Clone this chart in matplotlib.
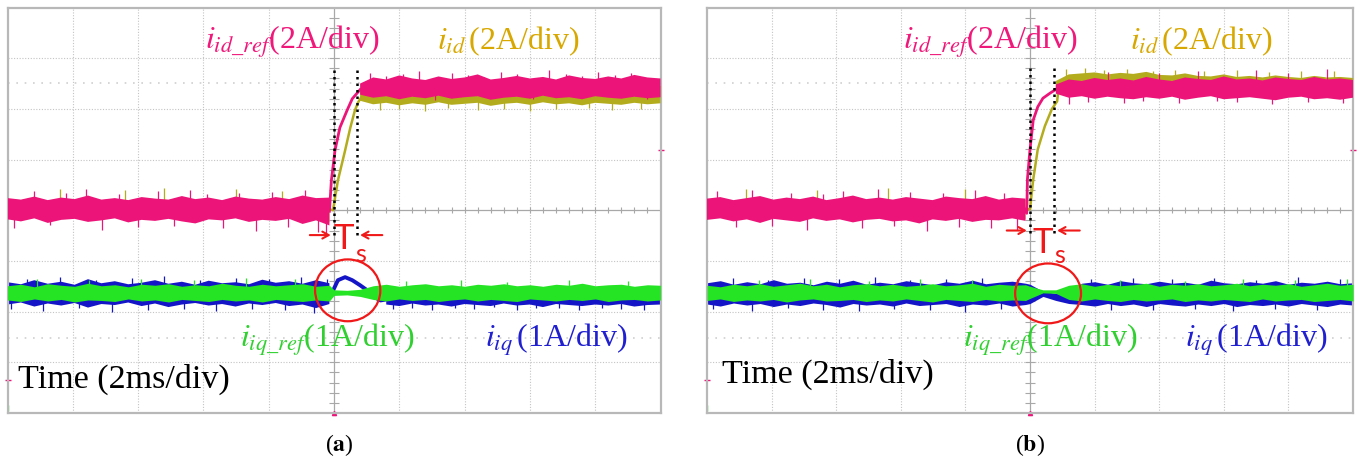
import matplotlib
matplotlib.use('Agg')
import matplotlib.pyplot as plt
from matplotlib.patches import Ellipse
import numpy as np

plt.rcParams.update({
    'font.family': ['Liberation Serif', 'DejaVu Serif'],
    'mathtext.fontset': 'stix',
})

nan = np.nan
# scope sample instants, divisions from trigger (2 ms/div); amplitudes in divisions
t = np.r_[np.linspace(-5, -0.07, 25), np.linspace(0, 5, 26)]

# ---------------- (a) ----------------
a_idref_hi = [0.24, 0.21, 0.27, 0.20, 0.25, 0.22, 0.29, 0.21, 0.24, 0.20, 0.26, 0.23, 0.21,
              0.28, 0.22, 0.25, 0.20, 0.27, 0.23, 0.21, 0.26, 0.22, 0.29, 0.24, 0.25,
              nan, nan,
              2.50, 2.62, 2.58, 2.66, 2.60, 2.57, 2.64, 2.59, 2.62, 2.68, 2.58, 2.61,
              2.65, 2.60, 2.63, 2.58, 2.66, 2.61, 2.59, 2.64, 2.60, 2.67, 2.62, 2.60]
a_idref_lo = [-0.18, -0.22, -0.16, -0.25, -0.19, -0.17, -0.23, -0.20, -0.16, -0.24, -0.19, -0.21, -0.17,
              -0.22, -0.26, -0.18, -0.20, -0.16, -0.23, -0.19, -0.21, -0.17, -0.27, -0.20, -0.30,
              nan, nan,
              2.28, 2.22, 2.25, 2.19, 2.24, 2.21, 2.26, 2.20, 2.23, 2.25, 2.18, 2.22,
              2.24, 2.20, 2.26, 2.21, 2.23, 2.19, 2.25, 2.22, 2.20, 2.24, 2.21, 2.23]
a_id_hi = [0.22, 0.20, 0.25, 0.19, 0.23, 0.21, 0.26, 0.20, 0.22, 0.19, 0.24, 0.22, 0.20,
           0.25, 0.21, 0.23, 0.19, 0.25, 0.22, 0.20, 0.24, 0.21, 0.26, 0.22, 0.23,
           nan, nan,
           2.40, 2.45, 2.44, 2.47, 2.45, 2.43, 2.46, 2.44, 2.45, 2.48, 2.44, 2.45,
           2.47, 2.45, 2.46, 2.44, 2.47, 2.45, 2.44, 2.46, 2.45, 2.48, 2.46, 2.45]
a_id_lo = [-0.15, -0.18, -0.14, -0.20, -0.16, -0.15, -0.19, -0.17, -0.14, -0.20, -0.16, -0.18, -0.15,
           -0.19, -0.21, -0.16, -0.17, -0.14, -0.19, -0.16, -0.18, -0.15, -0.22, -0.17, -0.24,
           nan, nan,
           2.16, 2.09, 2.12, 2.07, 2.11, 2.08, 2.13, 2.08, 2.10, 2.12, 2.06, 2.10,
           2.12, 2.08, 2.13, 2.09, 2.11, 2.07, 2.12, 2.10, 2.08, 2.12, 2.09, 2.11]
a_iqref_hi = [-1.49, -1.46, -1.51, -1.45, -1.48, -1.50, -1.44, -1.49, -1.47, -1.51, -1.46, -1.48, -1.45,
              -1.50, -1.47, -1.49, -1.44, -1.48, -1.50, -1.46, -1.49, -1.47, -1.45, -1.50, -1.48,
              -1.57, -1.58, -1.56,
              -1.49, -1.46, -1.50, -1.47, -1.45, -1.49, -1.47, -1.50, -1.46, -1.48, -1.45, -1.49,
              -1.47, -1.50, -1.46, -1.48, -1.44, -1.49, -1.47, -1.46, -1.50, -1.47, -1.48]
a_iqref_lo = [-1.77, -1.80, -1.75, -1.79, -1.76, -1.81, -1.77, -1.78, -1.80, -1.75, -1.79, -1.77, -1.81,
              -1.76, -1.78, -1.80, -1.76, -1.79, -1.77, -1.81, -1.76, -1.78, -1.80, -1.77, -1.79,
              -1.68, -1.67, -1.70,
              -1.76, -1.79, -1.75, -1.78, -1.76, -1.80, -1.77, -1.75, -1.79, -1.76, -1.78, -1.80,
              -1.75, -1.77, -1.79, -1.76, -1.78, -1.75, -1.80, -1.77, -1.76, -1.79, -1.77]
a_iq_hi = [-1.42, -1.46, -1.38, -1.45, -1.41, -1.47, -1.36, -1.44, -1.40, -1.46, -1.43, -1.38, -1.45,
           -1.41, -1.47, -1.39, -1.44, -1.42, -1.46, -1.37, -1.43, -1.40, -1.45, -1.38, -1.44,
           nan, nan, nan, nan,
           -1.66, -1.64, -1.67, -1.65, -1.63, -1.66, -1.64, -1.67, -1.65, -1.66, -1.63,
           -1.65, -1.67, -1.64, -1.66, -1.65, -1.63, -1.66, -1.64, -1.67, -1.65, -1.66]
a_iq_lo = [-1.86, -1.82, -1.90, -1.84, -1.88, -1.83, -1.92, -1.85, -1.87, -1.82, -1.89, -1.84, -1.91,
           -1.86, -1.83, -1.88, -1.85, -1.90, -1.84, -1.87, -1.83, -1.89, -1.86, -1.93, -1.85,
           nan, nan, nan, nan,
           -1.86, -1.89, -1.84, -1.88, -1.86, -1.90, -1.85, -1.87, -1.89, -1.84, -1.88,
           -1.86, -1.91, -1.85, -1.87, -1.89, -1.86, -1.88, -1.85, -1.90, -1.87, -1.86]
# step edges
a_idref_rise_t = [-0.07, -0.04, 0.015, 0.09, 0.20, 0.28, 0.40]
a_idref_rise_y = [-0.02, 0.59, 1.18, 1.63, 1.97, 2.20, 2.38]
a_id_rise_t = [-0.07, -0.015, 0.06, 0.17, 0.25, 0.32, 0.37, 0.45]
a_id_rise_y = [0.02, 0.00, 0.59, 1.18, 1.63, 1.97, 2.13, 2.30]
a_iq_bump_t = [-0.07, -0.02, 0.06, 0.17, 0.28, 0.40, 0.51, 0.63, 0.71, 0.80]
a_iq_bump_y = [-1.62, -1.60, -1.38, -1.32, -1.38, -1.48, -1.58, -1.72, -1.78, -1.76]
# noise spikes: (before step, after step) resting levels, spike instants and tips
a_idref_level = (0.02, 2.40)
a_idref_spk_t = [-4.9, -4.6, -4.35, -4.1, -3.8, -3.55, -3.3, -3.0, -2.7, -2.45,
                 -2.2, -1.95, -1.7, -1.45, -1.2, -0.95, -0.7, -0.45, -0.25, -0.12,
                 0.55, 0.8, 1.05, 1.3, 1.55, 1.8, 2.05, 2.3, 2.55,
                 2.8, 3.05, 3.3, 3.55, 3.8, 4.05, 4.3, 4.55, 4.8]
a_idref_spk_y = [-0.36, 0.38, -0.30, 0.34, 0.41, -0.38, 0.32, -0.34, 0.37, -0.31,
                 0.40, 0.33, -0.36, 0.35, -0.40, 0.36, -0.33, 0.39, -0.42, -0.46,
                 2.70, 2.64, 2.68, 2.74, 2.18, 2.70, 2.66, 2.62, 2.72,
                 2.68, 2.20, 2.76, 2.69, 2.64, 2.73, 2.67, 2.71, 2.19]
a_id_level = (0.02, 2.28)
a_id_spk_t = [-4.2, -3.2, -2.6, -1.5, -0.8,
              0.7, 1.0, 1.4, 1.75, 2.2, 2.6, 3.0, 3.4, 3.9, 4.25, 4.7]
a_id_spk_y = [0.42, 0.40, 0.44, 0.41, 0.38,
              1.98, 2.00, 1.96, 2.01, 1.97, 2.00, 1.95, 1.99, 2.02, 1.97, 2.00]
a_iq_level = (-1.64, -1.76)
a_iq_spk_t = [-4.95, -4.7, -4.45, -4.2, -3.9, -3.65, -3.4, -3.1, -2.85, -2.6,
              -2.3, -2.05, -1.8, -1.5, -1.25, -1.0, -0.75, -0.5, -0.3, -0.1,
              0.9, 1.2, 1.5, 1.85, 2.15, 2.45, 2.8, 3.1, 3.45, 3.75, 4.1, 4.4, 4.75]
a_iq_spk_y = [-1.95, -1.36, -1.98, -1.32, -1.93, -1.37, -2.00, -1.34, -1.96, -1.30,
              -1.94, -1.38, -1.99, -1.33, -1.95, -1.36, -1.97, -1.31, -2.02, -1.35,
              -1.94, -1.92, -1.96, -1.93, -1.95, -1.91, -1.97, -1.93, -1.92, -1.96, -1.93, -1.95, -1.97]
a_iqref_level = (-1.63, -1.63)
a_iqref_spk_t = [-4.55, -3.75, -2.95, -2.15, -1.35, -0.6, 1.1, 1.95, 2.65, 3.6, 4.5]
a_iqref_spk_y = [-1.36, -1.38, -1.35, -1.37, -1.34, -1.36, -1.40, -1.38, -1.41, -1.37, -1.39]

# ---------------- (b) ----------------
b_idref_hi = [0.23, 0.26, 0.20, 0.24, 0.28, 0.21, 0.25, 0.22, 0.27, 0.20, 0.24, 0.29, 0.22,
              0.25, 0.21, 0.26, 0.23, 0.20, 0.27, 0.24, 0.22, 0.28, 0.21, 0.25, 0.23,
              nan, nan,
              2.48, 2.58, 2.55, 2.61, 2.57, 2.60, 2.56, 2.63, 2.58, 2.55, 2.62, 2.59,
              2.57, 2.64, 2.58, 2.60, 2.56, 2.62, 2.59, 2.57, 2.63, 2.58, 2.60, 2.57]
b_idref_lo = [-0.19, -0.16, -0.22, -0.18, -0.25, -0.17, -0.20, -0.23, -0.16, -0.21, -0.18, -0.24, -0.19,
              -0.17, -0.22, -0.20, -0.26, -0.18, -0.21, -0.17, -0.23, -0.19, -0.20, -0.16, -0.21,
              nan, nan,
              2.30, 2.22, 2.25, 2.20, 2.24, 2.21, 2.19, 2.23, 2.20, 2.24, 2.18, 2.22,
              2.25, 2.19, 2.21, 2.23, 2.20, 2.17, 2.22, 2.24, 2.19, 2.21, 2.18, 2.22]
b_id_hi = [0.20, 0.22, 0.18, 0.21, 0.25, 0.19, 0.22, 0.20, 0.24, 0.18, 0.21, 0.26, 0.20,
           0.22, 0.19, 0.23, 0.20, 0.18, 0.24, 0.21, 0.20, 0.25, 0.19, 0.22, 0.20,
           nan, nan,
           2.55, 2.68, 2.70, 2.72, 2.68, 2.71, 2.69, 2.73, 2.67, 2.66, 2.70, 2.65,
           2.64, 2.68, 2.63, 2.65, 2.62, 2.66, 2.63, 2.61, 2.65, 2.62, 2.63, 2.61]
b_id_lo = [-0.16, -0.14, -0.19, -0.15, -0.21, -0.15, -0.17, -0.20, -0.14, -0.18, -0.15, -0.20, -0.16,
           -0.15, -0.19, -0.17, -0.22, -0.15, -0.18, -0.15, -0.20, -0.16, -0.17, -0.14, -0.18,
           nan, nan,
           2.34, 2.31, 2.33, 2.30, 2.32, 2.31, 2.29, 2.32, 2.30, 2.33, 2.29, 2.31,
           2.32, 2.30, 2.31, 2.32, 2.30, 2.28, 2.31, 2.32, 2.29, 2.31, 2.29, 2.31]
b_iqref_hi = [-1.48, -1.51, -1.46, -1.49, -1.45, -1.50, -1.47, -1.44, -1.49, -1.46, -1.51, -1.47, -1.45,
              -1.49, -1.46, -1.50, -1.48, -1.45, -1.49, -1.47, -1.44, -1.50, -1.46, -1.48, -1.47,
              -1.50, -1.57, -1.57,
              -1.48, -1.45, -1.50, -1.46, -1.49, -1.47, -1.44, -1.50, -1.46, -1.48, -1.45, -1.49,
              -1.47, -1.44, -1.49, -1.46, -1.48, -1.45, -1.50, -1.47, -1.44, -1.48, -1.46]
b_iqref_lo = [-1.78, -1.75, -1.80, -1.77, -1.79, -1.76, -1.81, -1.77, -1.75, -1.79, -1.78, -1.76, -1.80,
              -1.77, -1.79, -1.75, -1.78, -1.81, -1.76, -1.78, -1.80, -1.76, -1.79, -1.77, -1.78,
              -1.74, -1.63, -1.64,
              -1.76, -1.79, -1.75, -1.78, -1.80, -1.76, -1.79, -1.77, -1.75, -1.80, -1.77, -1.79,
              -1.76, -1.78, -1.80, -1.75, -1.79, -1.77, -1.76, -1.80, -1.78, -1.76, -1.79]
b_iq_hi = [-1.43, -1.39, -1.46, -1.41, -1.45, -1.37, -1.44, -1.42, -1.47, -1.40, -1.44, -1.38, -1.46,
           -1.42, -1.45, -1.39, -1.43, -1.47, -1.41, -1.44, -1.38, -1.45, -1.42, -1.40, -1.44,
           -1.46, -1.60, -1.64, -1.62,
           -1.44, -1.41, -1.46, -1.39, -1.43, -1.45, -1.40, -1.44, -1.42, -1.46, -1.38,
           -1.43, -1.45, -1.41, -1.44, -1.39, -1.46, -1.42, -1.44, -1.40, -1.45, -1.43]
b_iq_lo = [-1.85, -1.89, -1.83, -1.87, -1.84, -1.90, -1.85, -1.88, -1.83, -1.86, -1.91, -1.84, -1.87,
           -1.85, -1.89, -1.83, -1.88, -1.86, -1.84, -1.90, -1.85, -1.87, -1.83, -1.89, -1.86,
           -1.84, -1.70, -1.78, -1.84,
           -1.86, -1.89, -1.84, -1.88, -1.85, -1.90, -1.84, -1.87, -1.89, -1.85, -1.88,
           -1.84, -1.90, -1.86, -1.88, -1.85, -1.89, -1.84, -1.87, -1.90, -1.85, -1.87]
b_idref_rise_t = [-0.07, -0.05, -0.04, 0.00, 0.05, 0.12, 0.20, 0.31, 0.42]
b_idref_rise_y = [0.02, -0.06, 0.61, 1.20, 1.78, 2.04, 2.21, 2.31, 2.40]
b_id_rise_t = [-0.07, 0.00, 0.05, 0.12, 0.23, 0.34, 0.42, 0.45]
b_id_rise_y = [0.02, 0.02, 0.61, 1.20, 1.66, 2.00, 2.15, 2.48]
b_idref_level = (0.03, 2.40)
b_idref_spk_t = [-4.85, -4.55, -4.3, -4.0, -3.7, -3.45, -3.2, -2.9, -2.6, -2.35,
                 -2.1, -1.85, -1.6, -1.35, -1.1, -0.85, -0.6, -0.4, -0.2,
                 0.6, 0.9, 1.2, 1.45, 1.75, 2.0, 2.3, 2.6, 2.9, 3.2, 3.5, 3.75, 4.0, 4.3, 4.6, 4.85]
b_idref_spk_y = [0.37, -0.34, 0.40, -0.31, 0.35, -0.39, 0.33, 0.38, -0.35, 0.41,
                 -0.32, 0.36, -0.40, 0.34, -0.33, 0.39, -0.36, 0.35, -0.38,
                 2.10, 2.14, 2.72, 2.12, 2.16, 2.70, 2.11, 2.74, 2.15, 2.13, 2.76, 2.10, 2.70, 2.14, 2.78, 2.12]
b_id_level = (0.02, 2.50)
b_id_spk_t = [-4.4, -3.3, -2.2, -1.0,
              0.55, 0.85, 1.15, 1.5, 1.9, 2.25, 2.7, 3.2, 3.7, 4.2, 4.7]
b_id_spk_y = [0.42, 0.40, 0.43, 0.41,
              2.78, 2.80, 2.76, 2.79, 2.75, 2.77, 2.74, 2.76, 2.73, 2.75, 2.74]
b_iq_level = (-1.64, -1.64)
b_iq_spk_t = [-4.9, -4.6, -4.3, -4.05, -3.75, -3.5, -3.2, -2.95, -2.65, -2.4,
              -2.1, -1.85, -1.55, -1.3, -1.0, -0.75, -0.45, -0.2,
              0.95, 1.25, 1.6, 1.9, 2.2, 2.55, 2.85, 3.15, 3.5, 3.8, 4.15, 4.45, 4.8]
b_iq_spk_y = [-1.95, -1.34, -1.98, -1.37, -1.93, -1.33, -1.97, -1.36, -1.99, -1.32,
              -1.94, -1.38, -1.96, -1.35, -2.00, -1.33, -1.95, -1.36,
              -1.35, -1.96, -1.33, -1.97, -1.36, -1.94, -1.34, -1.98, -1.37, -1.95, -1.32, -1.96, -1.35]
b_iqref_level = (-1.63, -1.63)
b_iqref_spk_t = [-4.2, -3.4, -2.5, -1.7, -0.9, 1.4, 2.4, 3.3, 4.1, 4.9]
b_iqref_spk_y = [-1.38, -1.36, -1.39, -1.35, -1.37, -1.37, -1.39, -1.36, -1.38, -1.35]

PINK, OLIVE, GREEN, BLUE, RED = '#ec1479', '#b3ac1c', '#24e424', '#1515c8', '#f01818'
LBL_PINK, LBL_GOLD, LBL_GREEN, LBL_BLUE = '#f0187a', '#d8a800', '#30d030', '#2020d0'


def graticule(ax):
    ax.set_xlim(-5, 5)
    ax.set_ylim(-4, 4)
    ax.set_xticks([])
    ax.set_yticks([])
    for s in ax.spines.values():
        s.set_color('#b8b8b8')
        s.set_linewidth(1.6)
    dot = (0, (1, 1.5))
    for x in range(-4, 5):
        if x:
            ax.axvline(x, color='#c4c4c4', lw=0.8, ls=dot, zorder=0)
    for y in range(-3, 4):
        if y:
            ax.axhline(y, color='#c4c4c4', lw=0.8, ls=dot, zorder=0)
    for y in (2.52, -2.52):
        ax.axhline(y, color='#d0d0d0', lw=1.2, ls=(0, (1, 4)), zorder=0)
    ax.axhline(0, color='#a8a8a8', lw=0.9, zorder=0)
    ax.axvline(0, color='#a8a8a8', lw=0.9, zorder=0)
    ax.vlines(np.arange(-4.8, 5, 0.2), -0.06, 0.06, color='#a8a8a8', lw=0.8, zorder=0)
    ax.hlines(np.arange(-3.8, 4, 0.2), -0.07, 0.07, color='#a8a8a8', lw=0.8, zorder=0)
    # channel markers on the frame
    ax.plot([5.0], [1.18], marker='_', ms=5, color=PINK, clip_on=False)
    ax.plot([-5.0], [-3.35], marker='_', ms=4, color=PINK, clip_on=False)
    ax.plot([-5.0], [-3.9], marker='|', ms=4, color=GREEN, clip_on=False)
    ax.plot([0], [-4.0], marker='^', ms=3, color=PINK, clip_on=False)


def trace(ax, hi, lo, spk_t, spk_y, level, color, z):
    ax.fill_between(t, lo, hi, color=color, lw=0, zorder=z)
    spk_t = np.asarray(spk_t)
    base = np.where(spk_t < 0, level[0], level[1])
    ax.vlines(spk_t, base, spk_y, color=color, lw=0.9, zorder=z)


def labels(ax, x_idref, x_id, x_iqref, x_iq, x_time, y_time):
    fs = 23
    ax.text(x_idref, 3.18, r'$i_{id\_ref}$(2A/div)', color=LBL_PINK, fontsize=fs, va='baseline')
    ax.text(x_id, 3.18, r'$i_{id}\,$(2A/div)', color=LBL_GOLD, fontsize=fs, va='baseline')
    ax.text(x_iqref, -2.69, r'$i_{iq\_ref}$(1A/div)', color=LBL_GREEN, fontsize=fs, va='baseline')
    ax.text(x_iq, -2.69, r'$i_{iq}\,$(1A/div)', color=LBL_BLUE, fontsize=fs, va='baseline')
    ax.text(x_time, y_time, 'Time (2ms/div)', color='black', fontsize=24.5, va='baseline')


def settling(ax, x2, y0, y1, ya, xl, xr, xT, yT, xs, ys):
    for x in (0.0, x2):
        ax.plot([x, x], [y0, y1], color='black', lw=1.8, ls=(0, (1, 1.6)),
                dash_capstyle='butt', zorder=6)
    arr = dict(arrowstyle='->,head_length=0.45,head_width=0.25', color=RED, lw=1.5,
               shrinkA=0, shrinkB=0)
    ax.annotate('', xy=(-0.05, ya), xytext=(xl, ya), arrowprops=arr, zorder=7)
    ax.annotate('', xy=(x2 + 0.05, ya), xytext=(xr, ya), arrowprops=arr, zorder=7)
    ax.text(xT, yT, 'T', color=RED, fontsize=25, family='Lato', ha='center', va='center', zorder=7)
    ax.text(xs, ys, 's', color=RED, fontsize=18, family='Lato', ha='left', va='center', zorder=7)


fig = plt.figure(figsize=(13.59, 4.59), dpi=100)
ax_a = fig.add_axes([7.5 / 1359, 46 / 459, 653 / 1359, 405.5 / 459])
ax_b = fig.add_axes([707 / 1359, 46 / 459, 646 / 1359, 405.5 / 459])

# (a)
graticule(ax_a)
trace(ax_a, a_iq_hi, a_iq_lo, a_iq_spk_t, a_iq_spk_y, a_iq_level, BLUE, 2)
ax_a.plot(a_iq_bump_t, a_iq_bump_y, color=BLUE, lw=2.8, zorder=2)
trace(ax_a, a_iqref_hi, a_iqref_lo, a_iqref_spk_t, a_iqref_spk_y, a_iqref_level, GREEN, 3)
trace(ax_a, a_id_hi, a_id_lo, a_id_spk_t, a_id_spk_y, a_id_level, OLIVE, 3)
ax_a.plot(a_id_rise_t, a_id_rise_y, color=OLIVE, lw=1.8, zorder=3)
trace(ax_a, a_idref_hi, a_idref_lo, a_idref_spk_t, a_idref_spk_y, a_idref_level, PINK, 4)
ax_a.plot(a_idref_rise_t, a_idref_rise_y, color=PINK, lw=2.0, zorder=4)
ax_a.add_patch(Ellipse((0.21, -1.58), 1.0, 1.22, fill=False, ec=RED, lw=1.6, zorder=8))
settling(ax_a, 0.35, -0.49, 2.8, -0.49, -0.37, 0.74, 0.15, -0.57, 0.33, -0.87)
labels(ax_a, -1.98, 1.58, -1.44, 2.31, -4.84, -3.5)

# (b)
graticule(ax_b)
trace(ax_b, b_iq_hi, b_iq_lo, b_iq_spk_t, b_iq_spk_y, b_iq_level, BLUE, 2)
trace(ax_b, b_iqref_hi, b_iqref_lo, b_iqref_spk_t, b_iqref_spk_y, b_iqref_level, GREEN, 3)
trace(ax_b, b_id_hi, b_id_lo, b_id_spk_t, b_id_spk_y, b_id_level, OLIVE, 3)
ax_b.plot(b_id_rise_t, b_id_rise_y, color=OLIVE, lw=1.8, zorder=3)
trace(ax_b, b_idref_hi, b_idref_lo, b_idref_spk_t, b_idref_spk_y, b_idref_level, PINK, 4)
ax_b.plot(b_idref_rise_t, b_idref_rise_y, color=PINK, lw=2.0, zorder=4)
ax_b.add_patch(Ellipse((0.28, -1.64), 1.02, 1.18, fill=False, ec=RED, lw=1.6, zorder=8))
settling(ax_b, 0.37, -0.45, 2.87, -0.40, -0.36, 0.77, 0.20, -0.65, 0.38, -0.89)
labels(ax_b, -1.97, 1.55, -1.04, 2.40, -4.77, -3.4)

fig.text(339 / 1359, 8 / 459, r'($\mathbf{a}$)', fontsize=17, ha='center', va='baseline')
fig.text(1030 / 1359, 8 / 459, r'($\mathbf{b}$)', fontsize=17, ha='center', va='baseline')

fig.savefig('out.png', dpi=100)
